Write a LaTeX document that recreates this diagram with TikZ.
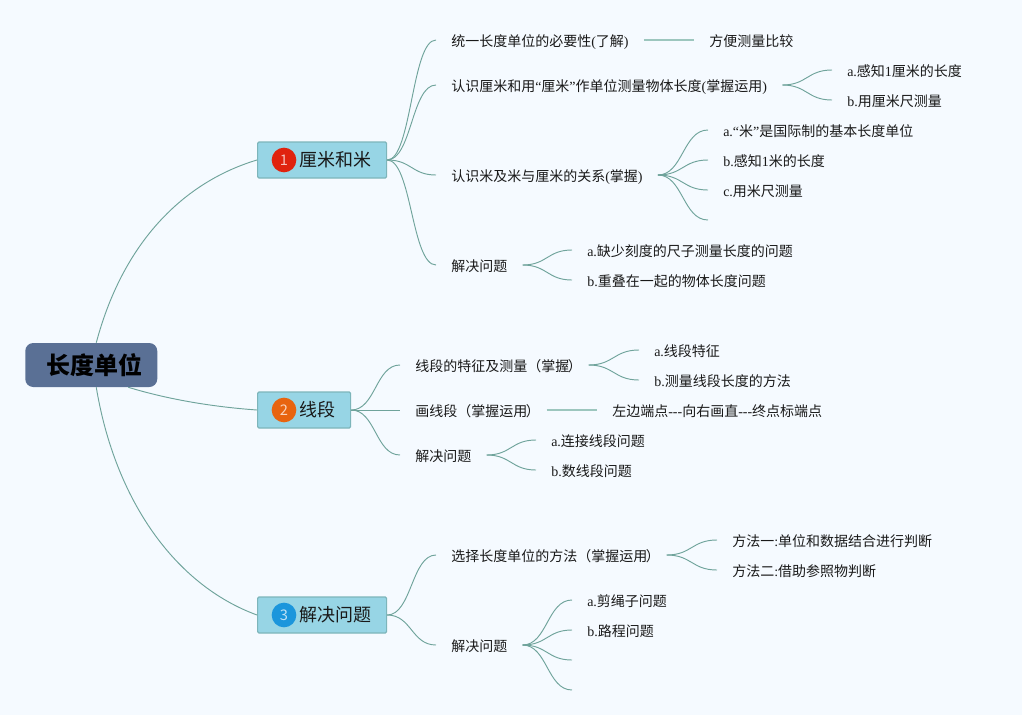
\documentclass[tikz,border=0pt]{standalone}
\usepackage{fontspec}
\setmainfont{Noto Sans CJK SC}
\newfontfamily\latf{Liberation Serif}
\newcommand\LT[1]{{\latf #1}}
\newcommand\RP{\hspace*{-1pt}）\hspace*{-6.5pt}}
\usetikzlibrary{calc}
\definecolor{bgc}{HTML}{F5FAFF}
\definecolor{linec}{HTML}{6FA39B}
\definecolor{linel}{HTML}{9CC6BE}
\definecolor{rootc}{HTML}{5A7095}
\definecolor{topicf}{HTML}{97D5E5}
\definecolor{topicd}{HTML}{7DB5BA}
\definecolor{ired}{HTML}{E0230E}
\definecolor{iora}{HTML}{E8640F}
\definecolor{iblu}{HTML}{1B96DC}
\tikzset{
  x=0.75pt,y=-0.75pt,
  conn/.style={draw=linec,line width=0.7pt},
  straight/.style={draw=linel,line width=1.1pt},
  leaf/.style={anchor=west,inner xsep=11.25pt,inner ysep=0pt,text height=11.8pt,text depth=2.3pt,font=\fontsize{10.5pt}{12pt}\selectfont,text=black!90},
  topic/.style={anchor=west,draw=topicd,fill=topicf,line width=0.9pt,rounded corners=1pt,inner xsep=0pt,inner ysep=0pt,minimum height=27pt,font=\fontsize{13.5pt}{16pt}\selectfont,text=black!90},
  icon/.style={circle,minimum size=18.5pt,inner sep=0pt,text=white,text opacity=0.72,font=\fontsize{11pt}{12pt}\selectfont},
  rootbox/.style={anchor=west,fill=rootc,rounded corners=6pt,inner sep=0pt,minimum width=99pt,minimum height=33pt,font=\fontsize{18pt}{20pt}\selectfont\bfseries,text=black}
}
\newcommand\br[2]{\draw[conn] let \p1=(#1.east),\p2=(#2.west) in (\p1) .. controls ({0.5*\x1+0.5*\x2},\y1) and ({0.5*\x1+0.5*\x2},\y2) .. (\p2);}
\begin{document}
\begin{tikzpicture}
\fill[bgc] (0,0) rectangle (1022,715);
\useasboundingbox (0,0) rectangle (1022,715);
% root and topics
\node[rootbox] (root) at (25,365) {\raisebox{-1.1pt}{\hspace*{5.25pt}长度单位}};
\node[topic] (t1) at (257,160) {\raisebox{-0.9pt}{\hspace*{31.5pt}厘米和米\hspace*{11.25pt}}};
\node[topic] (t2) at (257,410) {\raisebox{-0.9pt}{\hspace*{31.5pt}线段\hspace*{11.25pt}}};
\node[topic] (t3) at (257,615) {\raisebox{-0.9pt}{\hspace*{31.5pt}解决问题\hspace*{11.25pt}}};
\node[icon,fill=ired] (i1) at (284,160) {1};
\node[icon,fill=iora] (i2) at (284,410) {2};
\node[icon,fill=iblu] (i3) at (284,615) {3};
\coordinate (r1) at ($(root.north)+(5,0)$);
\coordinate (r2) at ($(root.south)+(37,0)$);
\coordinate (r3) at ($(root.south)+(5,0)$);
\draw[conn] (r1) .. controls (125,235) and (190,180) .. (t1.west);
\draw[conn] (r2) .. controls (170,400) and (215,407) .. (t2.west);
\draw[conn] (r3) .. controls (115,500) and (175,585) .. (t3.west);
% branch 1
\node[leaf] (a1) at (436,40) {统一长度单位的必要性\LT{(}了解\LT{)}};
\node[leaf] (a1x) at (694,40) {方便测量比较};
\node[leaf] (a2) at (436,85) {认识厘米和用\LT{“}厘米\LT{”}作单位测量物体长度\LT{(}掌握运用\LT{)}};
\node[leaf] (a2a) at (832,70) {\LT{a.}感知\LT{1}厘米的长度};
\node[leaf] (a2b) at (832,100) {\LT{b.}用厘米尺测量};
\node[leaf] (a3) at (436,175) {认识米及米与厘米的关系\LT{(}掌握\LT{)}};
\node[leaf] (a3a) at (708,130) {\LT{a.“}米\LT{”}是国际制的基本长度单位};
\node[leaf] (a3b) at (708,160) {\LT{b.}感知\LT{1}米的长度};
\node[leaf] (a3c) at (708,190) {\LT{c.}用米尺测量};
\node[leaf] (a3d) at (708,220) {};
\node[leaf] (a4) at (436,265) {解决问题};
\node[leaf] (a4a) at (572,250) {\LT{a.}缺少刻度的尺子测量长度的问题};
\node[leaf] (a4b) at (572,280) {\LT{b.}重叠在一起的物体长度问题};
% branch 2
\node[leaf] (b1) at (400,365) {线段的特征及测量（掌握\RP};
\node[leaf] (b1a) at (639,350) {\LT{a.}线段特征};
\node[leaf] (b1b) at (639,380) {\LT{b.}测量线段长度的方法};
\node[leaf] (b2) at (400,410) {画线段（掌握运用\RP};
\node[leaf] (b2x) at (597,410) {左边端点\LT{---}向右画直\LT{---}终点标端点};
\node[leaf] (b3) at (400,455) {解决问题};
\node[leaf] (b3a) at (536,440) {\LT{a.}连接线段问题};
\node[leaf] (b3b) at (536,470) {\LT{b.}数线段问题};
% branch 3
\node[leaf] (c1) at (436,555) {选择长度单位的方法（掌握运用\RP};
\node[leaf] (c1a) at (717,540) {方法一\LT{:}单位和数据结合进行判断};
\node[leaf] (c1b) at (717,570) {方法二\LT{:}借助参照物判断};
\node[leaf] (c2) at (436,645) {解决问题};
\node[leaf] (c2a) at (572,600) {\LT{a.}剪绳子问题};
\node[leaf] (c2b) at (572,630) {\LT{b.}路程问题};
\node[leaf] (c2c) at (572,660) {};
\node[leaf] (c2d) at (572,690) {};
% connectors
\br{t1}{a1}\br{t1}{a2}\br{t1}{a3}\br{t1}{a4}
\draw[straight] (a1.east) -- (a1x.west);
\br{a2}{a2a}\br{a2}{a2b}
\br{a3}{a3a}\br{a3}{a3b}\br{a3}{a3c}\br{a3}{a3d}
\br{a4}{a4a}\br{a4}{a4b}
\br{t2}{b1}\br{t2}{b2}\br{t2}{b3}
\br{b1}{b1a}\br{b1}{b1b}
\draw[straight] (b2.east) -- (b2x.west);
\br{b3}{b3a}\br{b3}{b3b}
\br{t3}{c1}\br{t3}{c2}
\br{c1}{c1a}\br{c1}{c1b}
\br{c2}{c2a}\br{c2}{c2b}\br{c2}{c2c}\br{c2}{c2d}
\end{tikzpicture}
\end{document}
